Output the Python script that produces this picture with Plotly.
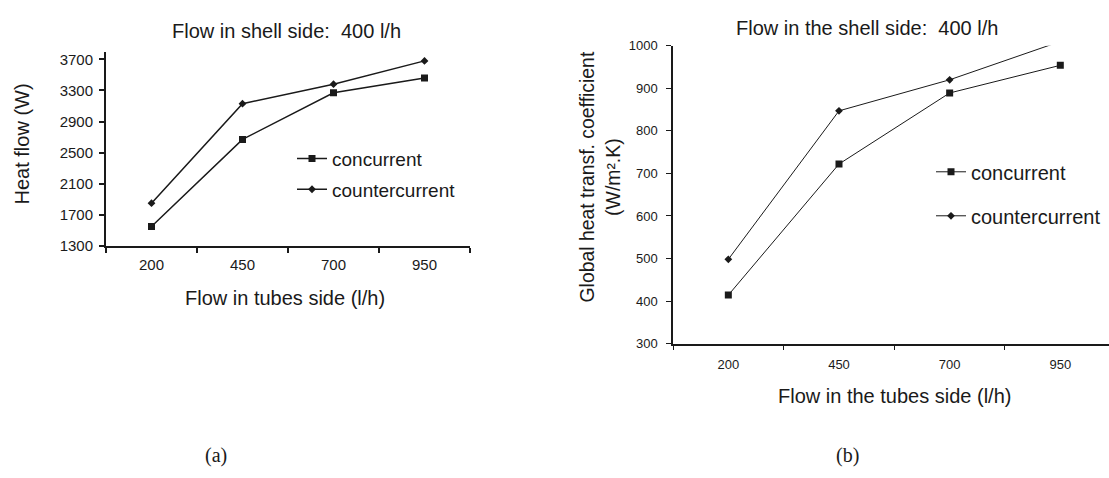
import plotly.graph_objects as go

# ---- data ----
categories = ["200", "450", "700", "950"]
heat_concurrent = [1550, 2670, 3270, 3460]
heat_countercurrent = [1850, 3130, 3380, 3680]
u_concurrent = [414, 722, 889, 954]
u_countercurrent = [498, 847, 920, 1010]

W, H = 1109, 478
SANS = "Liberation Sans, Arial, sans-serif"
SERIF = "Liberation Serif, Times New Roman, serif"
INK = "#1a1a1a"

def px(x):
    return x / W

def py(y):
    return (H - y) / H

fig = go.Figure()

# (a) heat flow
fig.add_trace(go.Scatter(x=categories, y=heat_concurrent, name="concurrent",
                         mode="lines+markers", xaxis="x", yaxis="y",
                         line=dict(color=INK, width=1.5),
                         marker=dict(symbol="square", size=7, color=INK),
                         legend="legend", legendgroup="a1"))
fig.add_trace(go.Scatter(x=categories, y=heat_countercurrent, name="countercurrent",
                         mode="lines+markers", xaxis="x", yaxis="y",
                         line=dict(color=INK, width=1.5),
                         marker=dict(symbol="diamond", size=6, color=INK),
                         legend="legend", legendgroup="a2"))

# (b) global heat transfer coefficient
fig.add_trace(go.Scatter(x=categories, y=u_concurrent, name="concurrent",
                         mode="lines+markers", xaxis="x2", yaxis="y2",
                         line=dict(color=INK, width=1),
                         marker=dict(symbol="square", size=7, color=INK),
                         legend="legend2", legendgroup="b1"))
fig.add_trace(go.Scatter(x=categories, y=u_countercurrent, name="countercurrent",
                         mode="lines+markers", xaxis="x2", yaxis="y2",
                         line=dict(color=INK, width=1),
                         marker=dict(symbol="diamond", size=6, color=INK),
                         legend="legend2", legendgroup="b2"))

axis_common = dict(showgrid=False, zeroline=False, showline=True, linecolor=INK,
                   ticks="outside", ticklen=5, tickcolor=INK)

fig.update_layout(
    width=W, height=H,
    margin=dict(l=0, r=0, t=0, b=0),
    paper_bgcolor="white", plot_bgcolor="white",
    xaxis=dict(**axis_common, type="category", categoryorder="array", categoryarray=categories,
               tickson="boundaries", range=[-0.5, 3.5], linewidth=2, tickwidth=1.5,
               domain=[px(106), px(470)], anchor="y",
               tickfont=dict(family=SANS, size=15, color=INK), ticklabelstandoff=4),
    yaxis=dict(**axis_common, range=[1300, 3800], tick0=1300, dtick=400, tickformat="d",
               linewidth=2, tickwidth=1.5,
               domain=[py(246.7), py(46)], anchor="x", ticklabelstandoff=3,
               tickfont=dict(family=SANS, size=15, color=INK)),
    xaxis2=dict(**axis_common, type="category", categoryorder="array", categoryarray=categories,
                tickson="boundaries", range=[-0.5, 3.44], linewidth=1.5, tickwidth=1,
                domain=[px(673), 1.0], anchor="y2",
                tickfont=dict(family=SANS, size=13, color=INK), ticklabelstandoff=8),
    yaxis2=dict(**axis_common, range=[300, 1000], tick0=300, dtick=100, tickformat="d",
                linewidth=1.5, tickwidth=1,
                domain=[py(347.5), py(40)], anchor="x2", ticklabelstandoff=6,
                tickfont=dict(family=SANS, size=13, color=INK)),
    legend=dict(x=px(292), y=py(137), xanchor="left", yanchor="top",
                font=dict(family=SANS, size=19, color=INK), bgcolor="rgba(0,0,0,0)",
                tracegroupgap=3, itemwidth=30),
    legend2=dict(x=px(931), y=py(150), xanchor="left", yanchor="top",
                 font=dict(family=SANS, size=20, color=INK), bgcolor="rgba(0,0,0,0)",
                 tracegroupgap=15, itemwidth=30),
)

annotations = [
    dict(text="Flow in shell side:  400 l/h", x=px(286), y=py(25), size=20, family=SANS),
    dict(text="Flow in tubes side (l/h)", x=px(285), y=py(300), size=20, family=SANS),
    dict(text="Heat flow (W)", x=px(22), y=py(142), size=20, family=SANS, angle=-90),
    dict(text="Flow in the shell side:  400 l/h", x=px(867), y=py(22), size=20, family=SANS),
    dict(text="Flow in the tubes side (l/h)", x=px(894), y=py(402), size=20, family=SANS),
    dict(text="Global heat transf. coefficient<br>(W/m².K)", x=px(600), y=py(175), size=19.4,
         family=SANS, angle=-90),
    dict(text="(a)", x=px(216), y=py(463), size=20, family=SERIF),
    dict(text="(b)", x=px(847), y=py(463), size=20, family=SERIF),
]
for a in annotations:
    fig.add_annotation(text=a["text"], x=a["x"], y=a["y"], xref="paper", yref="paper",
                       xanchor="center", yanchor="middle", showarrow=False,
                       textangle=a.get("angle", 0),
                       font=dict(family=a["family"], size=a["size"], color=INK))

fig.write_html("out.html", config={"displayModeBar": False},
               post_script="document.body.style.margin='0';document.body.style.overflow='hidden';")
